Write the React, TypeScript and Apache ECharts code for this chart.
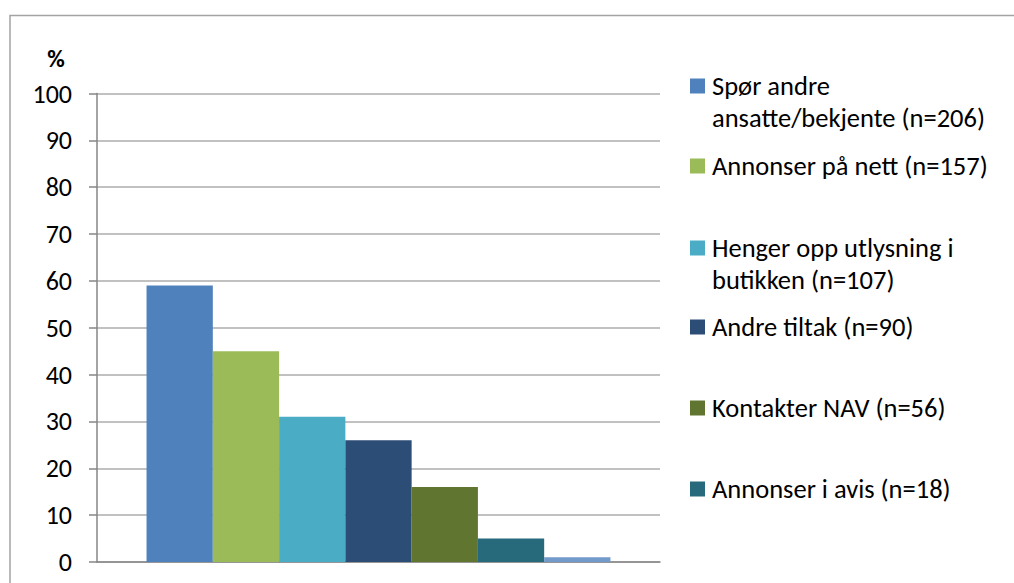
import React, { useEffect, useRef } from "react";
import * as echarts from "echarts";

// Share of stores using each recruitment method (%)
const seriesNames = [
  "Spør andre ansatte/bekjente (n=206)",
  "Annonser på nett (n=157)",
  "Henger opp utlysning i butikken (n=107)",
  "Andre tiltak (n=90)",
  "Kontakter NAV (n=56)",
  "Annonser i avis (n=18)",
  "Annet",
];
const seriesValues = [59, 45, 31, 26, 16, 5, 1];
const seriesColors = ["#4f81bd", "#9bbb59", "#4bacc6", "#2c4d75", "#5f7530", "#276a7c", "#729aca"];

// Legend entries as they wrap on the right-hand side
const legendLabels = [
  ["Spør andre", "ansatte/bekjente (n=206)"],
  ["Annonser på nett (n=157)"],
  ["Henger opp utlysning i", "butikken (n=107)"],
  ["Andre tiltak (n=90)"],
  ["Kontakter NAV (n=56)"],
  ["Annonser i avis (n=18)"],
];
const legendCenters = [86, 166, 248, 327, 408, 489];

const yTicks = { min: 0, max: 100, interval: 10 };

const FONT = "Carlito, Calibri, Lato, sans-serif";
const LINE_H = 32;

export default function App() {
  const ref = useRef<HTMLDivElement>(null);

  useEffect(() => {
    if (!ref.current) return;
    const chart = echarts.init(ref.current, null, { renderer: "svg" });

    const legends = legendLabels.map((lines, i) => {
      const multi = lines.length > 1;
      const boxH = multi ? LINE_H * 3 : LINE_H;
      return {
        data: [seriesNames[i]],
        left: 690,
        top: legendCenters[i] - boxH / 2,
        padding: 0,
        icon: "rect",
        itemWidth: 15,
        itemHeight: 15,
        selectedMode: false,
        formatter: () => (multi ? "\n" + lines.join("\n") : lines[0]),
        textStyle: {
          fontFamily: FONT,
          fontSize: 26.5,
          lineHeight: LINE_H,
          color: "#000",
          padding: [0, 0, 0, 2],
        },
      };
    });

    chart.setOption({
      animation: false,
      backgroundColor: "#fff",
      grid: { left: 97, top: 93.5, right: 354, bottom: 21, containLabel: false },
      legend: legends,
      xAxis: {
        type: "category",
        data: [""],
        axisLine: { show: true, lineStyle: { color: "#868686", width: 1.5 } },
        axisTick: { show: false },
        axisLabel: { show: false },
        splitLine: { show: false },
      },
      yAxis: {
        type: "value",
        min: yTicks.min,
        max: yTicks.max,
        interval: yTicks.interval,
        axisLine: { show: true, lineStyle: { color: "#868686", width: 1.5 } },
        axisTick: { show: true, length: 8, lineStyle: { color: "#868686", width: 1.5 } },
        axisLabel: { margin: 25, fontFamily: FONT, fontSize: 26, color: "#000" },
        splitLine: { show: true, lineStyle: { color: "#acacac", width: 1.5 } },
      },
      series: seriesNames.map((name, i) => ({
        name,
        type: "bar",
        data: [seriesValues[i]],
        itemStyle: { color: seriesColors[i] },
        barGap: "0%",
        barCategoryGap: "17.6%",
      })),
      graphic: [
        {
          type: "rect",
          shape: { x: 10, y: 15.5, width: 1020, height: 600 },
          style: { fill: "none", stroke: "#a3a3a3", lineWidth: 1.5 },
          silent: true,
        },
        {
          type: "text",
          x: 56,
          y: 58,
          style: {
            text: "%",
            fontFamily: FONT,
            fontSize: 24,
            fontWeight: "bold",
            fill: "#000",
            align: "center",
            verticalAlign: "middle",
          },
        },
      ],
    });

    return () => chart.dispose();
  }, []);

  return (
    <div
      ref={ref}
      style={{ position: "fixed", left: 0, top: 0, width: 1014, height: 583 }}
    />
  );
}
